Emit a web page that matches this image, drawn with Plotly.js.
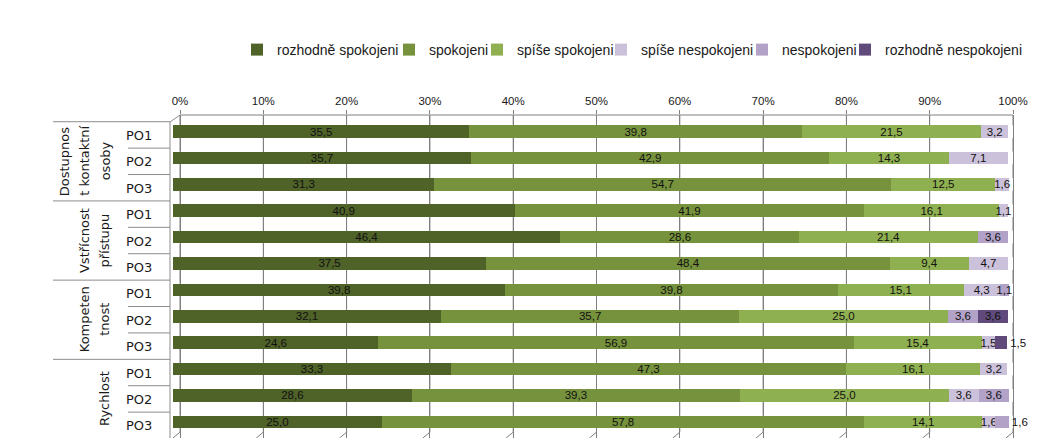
<!DOCTYPE html>
<html><head><meta charset="utf-8">
<script src="https://cdn.plot.ly/plotly-3.0.1.min.js"></script>
<style>html,body{margin:0;padding:0;background:#fff}#chart{width:1053px;height:443px}</style>
</head><body><div id="chart"></div>
<script>
// ---- data ----
const groupLabelLines = [
  ['Dostupnos', 't kontaktní', 'osoby'],
  ['Vstřícnost', 'přístupu'],
  ['Kompeten', 'tnost'],
  ['Rychlost']
];
const subLabels = ['PO1', 'PO2', 'PO3'];
const seriesNames = ['rozhodně spokojeni', 'spokojeni', 'spíše spokojeni', 'spíše nespokojeni', 'nespokojeni', 'rozhodně nespokojeni'];
const seriesColors = ['#4F6228', '#76923C', '#8FB050', '#CCC1DA', '#B3A2C7', '#5F4A7B'];
const rozhodneSpokojeni   = [35.5, 35.7, 31.3, 40.9, 46.4, 37.5, 39.8, 32.1, 24.6, 33.3, 28.6, 25.0];
const spokojeni           = [39.8, 42.9, 54.7, 41.9, 28.6, 48.4, 39.8, 35.7, 56.9, 47.3, 39.3, 57.8];
const spiseSpokojeni      = [21.5, 14.3, 12.5, 16.1, 21.4,  9.4, 15.1, 25.0, 15.4, 16.1, 25.0, 14.1];
const spiseNespokojeni    = [ 3.2,  7.1,  1.6,  1.1, null,  4.7,  4.3, null,  1.5,  3.2,  3.6,  1.6];
const nespokojeni         = [null, null, null, null,  3.6, null,  1.1,  3.6, null, null,  3.6,  1.6];
const rozhodneNespokojeni = [null, null, null, null, null, null, null,  3.6,  1.5, null, null, null];
const xTicks = [0, 10, 20, 30, 40, 50, 60, 70, 80, 90, 100];
const xTickText = xTicks.map(v => v + '%');

// ---- layout helpers ----
const W = 1053, H = 443, T = 115, B = 5;
const FONT = 'Liberation Sans, Arial, sans-serif';
const FONT2 = 'DejaVu Sans, Verdana, sans-serif';
const seriesValues = [rozhodneSpokojeni, spokojeni, spiseSpokojeni, spiseNespokojeni, nespokojeni, rozhodneNespokojeni];
const rowCount = groupLabelLines.length * subLabels.length;
const rows = Array.from({length: rowCount}, (_, i) => i);
const legendTextStart = [277, 429, 517, 641, 782, 885];
const legendKey = k => k === 0 ? 'legend' : 'legend' + (k + 1);
const BAR_W = 0.48;

// front plane (bars): 0 % at 173 px, 100 % at 1008 px; back wall (grid): 0 % at 180 px, 100 % at 1013 px
const XMAX = 101;
const barLeft = 173, barRight100 = 1008;
const barPx = (barRight100 - barLeft) / 100;
const domRight = barLeft + barPx * XMAX;
const gridLeft = 180, gridRight100 = 1013;
const gridPx = (gridRight100 - gridLeft) / 100;
const gridR0 = -(gridLeft - barLeft) / gridPx;
const gridR1 = gridR0 + (domRight - barLeft) / gridPx;
const Y_TOP = -0.625, Y_BOTTOM = rowCount - 0.39;

// last segment of a row whose last two segments are both tiny -> label outside
function textPositions(k) {
  return rows.map(i => {
    const v = seriesValues[k][i];
    if (v == null) return 'inside';
    let later = false;
    for (let m = k + 1; m < seriesValues.length; m++) if (seriesValues[m][i] != null) later = true;
    if (later) return 'inside';
    let prev = null;
    for (let m = k - 1; m >= 0; m--) if (seriesValues[m][i] != null) { prev = seriesValues[m][i]; break; }
    return (v < 2 && prev != null && prev < 2) ? 'outside' : 'inside';
  });
}

const traces = [];
seriesValues.forEach((vals, k) => traces.push({
  type: 'bar', orientation: 'h', name: seriesNames[k],
  x: vals, y: rows, xaxis: 'x', yaxis: 'y',
  marker: {color: seriesColors[k], line: {width: 0}},
  width: BAR_W,
  texttemplate: '%{x:.1f}', textposition: textPositions(k), insidetextanchor: 'middle',
  constraintext: 'none', textangle: 0, cliponaxis: false,
  textfont: {family: FONT, size: 11.5, color: '#111111'},
  hoverinfo: 'skip',
  legend: legendKey(k)
}));
// empty trace so that the back-wall percentage axis is drawn
traces.push({type: 'scatter', mode: 'markers', x: [], y: [], xaxis: 'x2', yaxis: 'y', showlegend: false, hoverinfo: 'skip'});

const annotations = [];
rows.forEach(i => {
  annotations.push({xref: 'paper', yref: 'y', x: 139 / W, y: i + 0.15, text: subLabels[i % subLabels.length],
    showarrow: false, xanchor: 'center', yanchor: 'middle', font: {family: FONT2, size: 13, color: '#1a1a1a'}});
});
groupLabelLines.forEach((lines, g) => {
  lines.forEach((line, j) => {
    annotations.push({xref: 'paper', yref: 'y', x: (105 - 20.5 * (lines.length - 1 - j)) / W,
      y: g * subLabels.length + 1 + 0.13, text: line, textangle: -90, showarrow: false,
      xanchor: 'center', yanchor: 'middle', font: {family: FONT2, size: 13, color: '#1a1a1a'}});
  });
});

const lineStyle = {color: '#8c8c8c', width: 1};
const gridStyle = {color: '#808080', width: 1};
const shapes = [];
const off = 0.13;
shapes.push({type: 'line', xref: 'paper', yref: 'y', x0: 170 / W, x1: 170 / W, y0: -0.5 + off, y1: rowCount - 0.5 + off, line: lineStyle});
shapes.push({type: 'line', xref: 'paper', yref: 'y', x0: 53 / W, x1: 170 / W, y0: -0.5 + off, y1: -0.5 + off, line: lineStyle});
shapes.push({type: 'line', xref: 'paper', yref: 'paper', x0: 170 / W, x1: 180 / W, y0: 1 - 7 / (H - T - B), y1: 1, line: lineStyle});
for (let r = 1; r <= rowCount; r++) {
  const isGroup = r % subLabels.length === 0;
  shapes.push({type: 'line', xref: 'paper', yref: 'y', x0: (isGroup ? 53 : 128) / W, x1: 170 / W,
    y0: r - 0.5 + off, y1: r - 0.5 + off, line: lineStyle});
}
// top edge of the back wall
shapes.push({type: 'line', xref: 'x2', yref: 'paper', x0: xTicks[0], x1: xTicks[xTicks.length - 1], y0: 1, y1: 1, line: gridStyle});
// back-wall gridlines, visible in the gaps between the bars (bars hide them elsewhere)
const gaps = [[Y_TOP, -BAR_W / 2]];
rows.forEach(i => gaps.push([i + BAR_W / 2, i === rowCount - 1 ? Y_BOTTOM - 0.22 : i + 1 - BAR_W / 2]));
xTicks.forEach(v => {
  gaps.forEach(([a, b]) => shapes.push({type: 'line', layer: 'above', xref: 'x2', yref: 'y', x0: v, x1: v, y0: a, y1: b, line: gridStyle}));
  // floor edge
  shapes.push({type: 'line', layer: 'above', xref: 'x2', yref: 'y', x0: v, x1: v - 0.85, y0: Y_BOTTOM - 0.22, y1: Y_BOTTOM, line: gridStyle});
});

const layout = {
  width: W, height: H, autosize: false,
  margin: {l: 0, r: 0, t: T, b: B},
  paper_bgcolor: '#ffffff', plot_bgcolor: '#ffffff',
  separators: ', ',
  barmode: 'stack', bargap: 0.5, showlegend: true,
  font: {family: FONT, color: '#1a1a1a'},
  xaxis: {domain: [barLeft / W, domRight / W], range: [0, XMAX], anchor: 'y', showgrid: false,
    showticklabels: false, zeroline: false, showline: false, ticks: '', fixedrange: true},
  xaxis2: {overlaying: 'x', range: [gridR0, gridR1], side: 'top', anchor: 'y',
    tickmode: 'array', tickvals: xTicks, ticktext: xTickText,
    showgrid: true, gridcolor: '#808080', gridwidth: 1,
    showline: false, ticks: 'outside', ticklen: 4, tickcolor: '#808080',
    zeroline: false, tickfont: {family: FONT, size: 11.5, color: '#1a1a1a'}, fixedrange: true},
  yaxis: {range: [Y_BOTTOM, Y_TOP], anchor: 'x', showgrid: false, showticklabels: false,
    zeroline: false, showline: false, ticks: '', fixedrange: true},
  annotations: annotations,
  shapes: shapes
};
seriesNames.forEach((n, k) => {
  layout[legendKey(k)] = {orientation: 'h', x: (legendTextStart[k] - 40) / W, xanchor: 'left',
    y: 1 + (T - 50) / (H - T - B), yanchor: 'middle', bgcolor: 'rgba(0,0,0,0)', borderwidth: 0,
    font: {family: FONT, size: 14, color: '#1a1a1a'}};
});

Plotly.newPlot('chart', traces, layout, {displayModeBar: false, staticPlot: true});
</script>
</body></html>
